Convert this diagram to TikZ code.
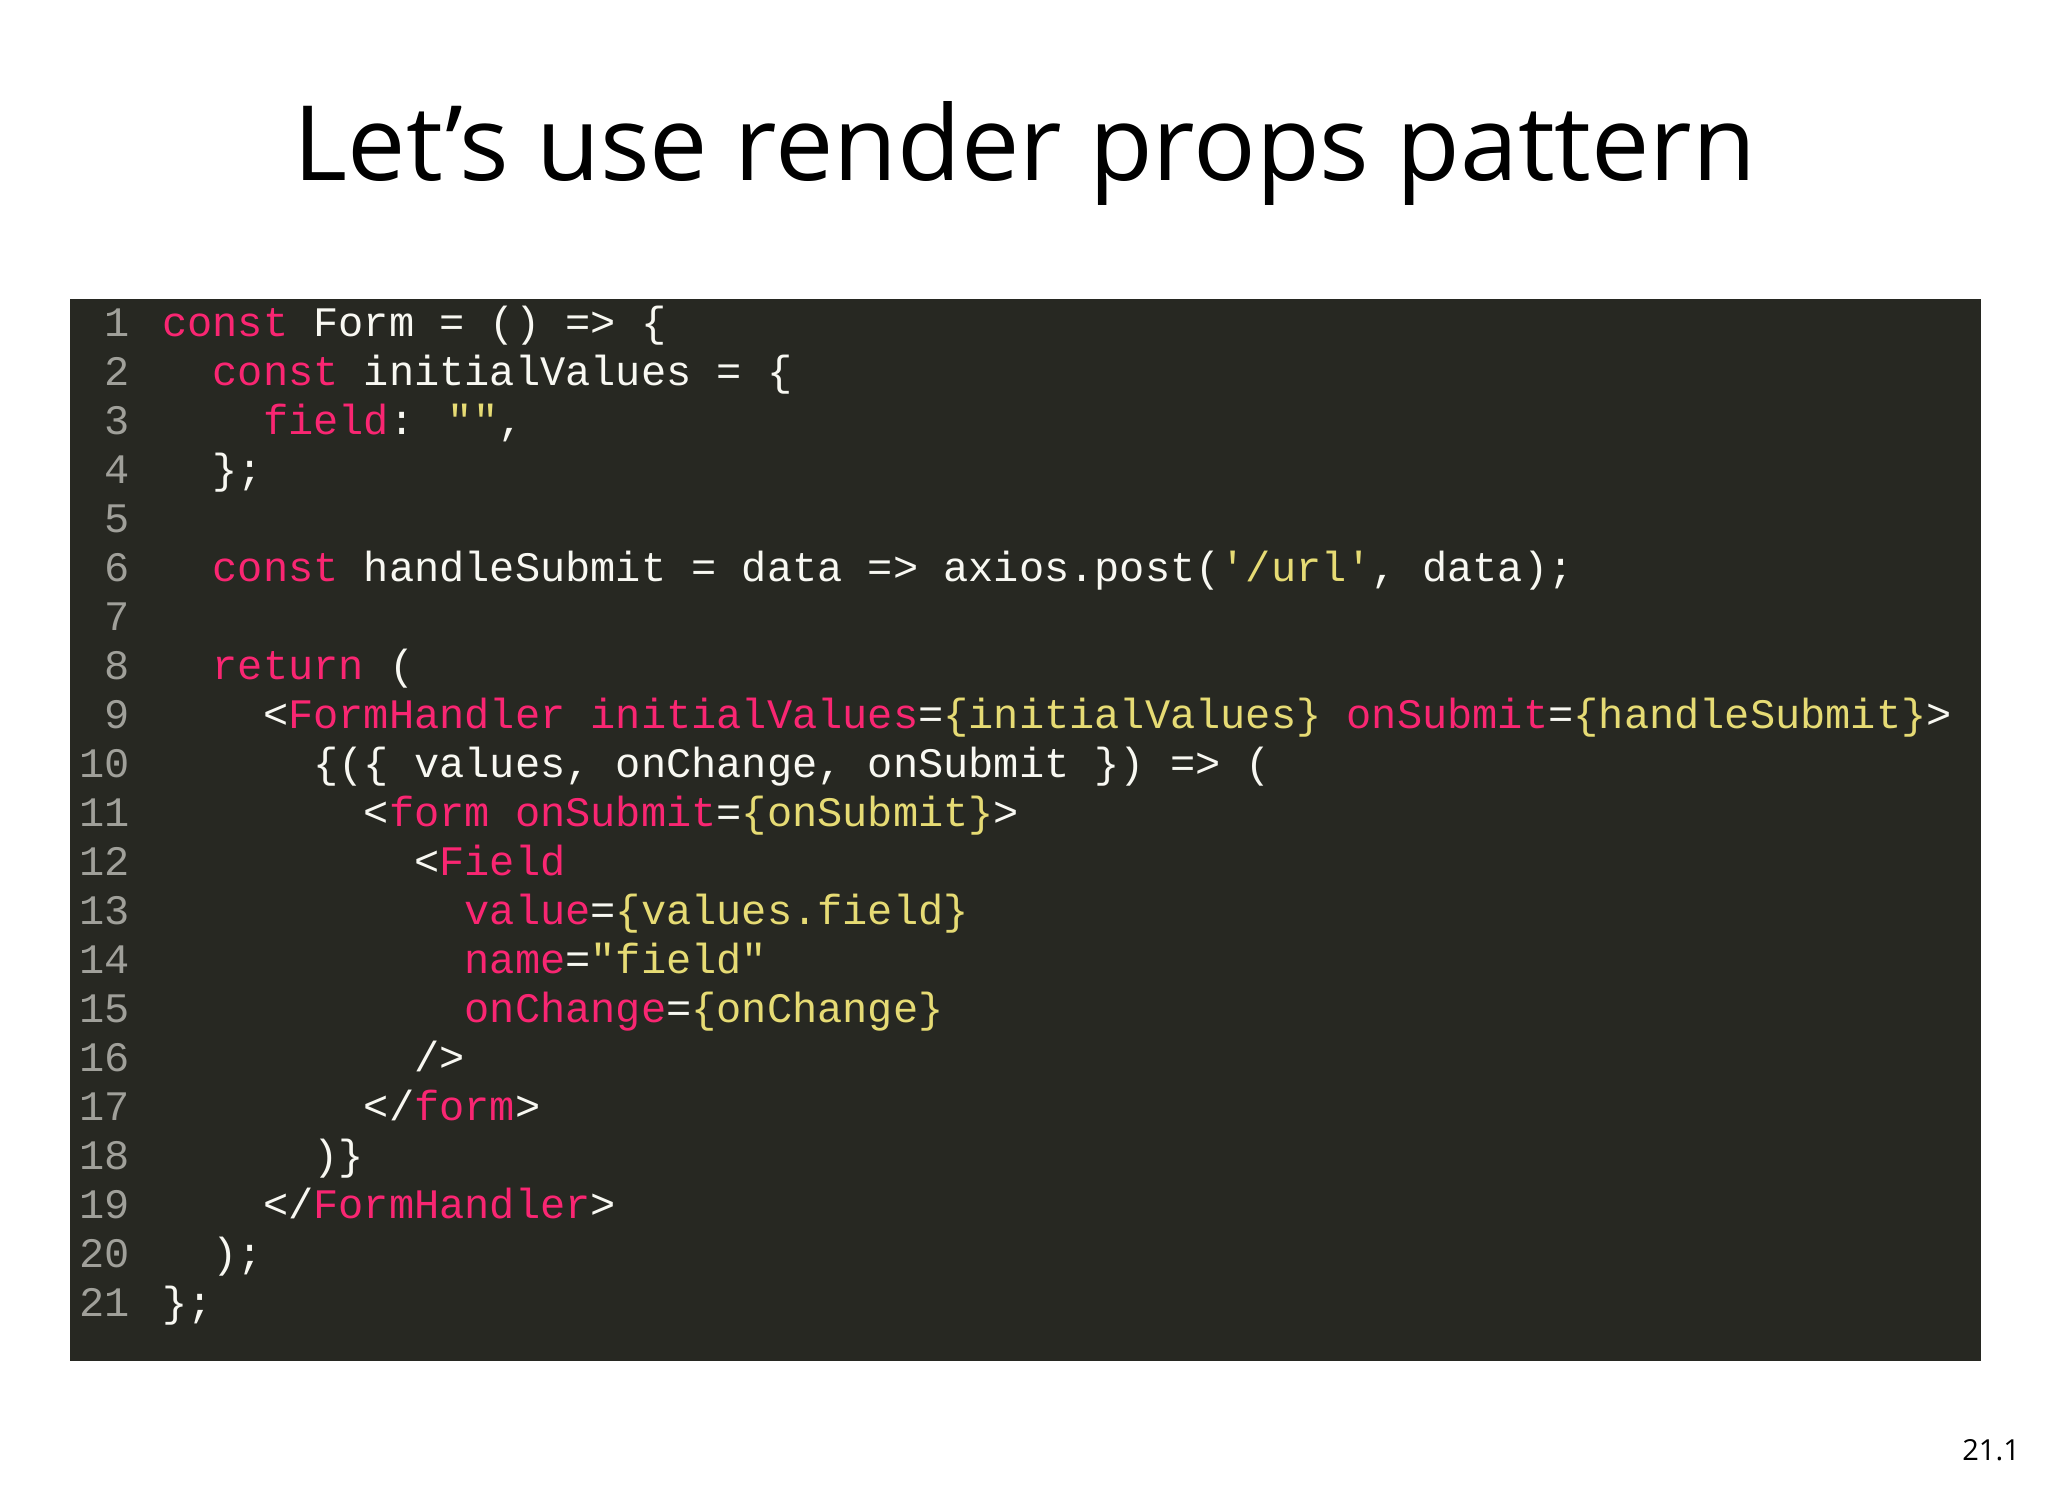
\documentclass[tikz,border=0pt]{standalone}
\usepackage{fontspec}
\setmainfont{Open Sans}
\newfontfamily\cf{Liberation Mono}
\definecolor{bgc}{HTML}{272822}
\definecolor{pk}{HTML}{F92672}
\definecolor{yl}{HTML}{E6DB74}
\definecolor{wt}{HTML}{F8F8F2}
\definecolor{gr}{HTML}{A0A09A}
\newcommand{\pk}[1]{\textcolor{pk}{#1}}
\newcommand{\yl}[1]{\textcolor{yl}{#1}}
\newcommand{\dq}{\symbol{34}}
\newcommand{\sq}{\symbol{39}}
\tikzset{code/.style={anchor=base west,inner sep=0pt,text=wt,font=\cf\fontsize{42}{42}\selectfont},
 lnum/.style={anchor=base east,inner sep=0pt,text=gr,font=\cf\fontsize{42}{42}\selectfont}}
\begin{document}
\begin{tikzpicture}[x=1pt,y=-1pt]
\useasboundingbox[fill=white] (0,0) rectangle (2048,1494);
\node[inner sep=0pt,font=\fontsize{104}{104}\selectfont] (title) at (1025,153) {Let's use render props pattern};
\fill[bgc] (70,299) rectangle (1981,1361);
\foreach \i in {1,...,21}{\node[lnum] (n\i) at (130,{336+(\i-1)*49}) {\i};}
\def\L#1#2#3{\node[code] (l#1) at ({162+#2*25.2},{336+(#1-1)*49}) {#3};}
\L{1}{0}{\pk{const} Form = () => \{}
\L{2}{2}{\pk{const} initialValues = \{}
\L{3}{4}{\pk{field}: \yl{\dq\dq},}
\L{4}{2}{\};}
\L{6}{2}{\pk{const} handleSubmit = data => axios.post(\yl{\sq/url\sq}, data);}
\L{8}{2}{\pk{return} (}
\L{9}{4}{<\pk{FormHandler} \pk{initialValues}=\yl{\{initialValues\}} \pk{onSubmit}=\yl{\{handleSubmit\}}>}
\L{10}{6}{\{(\{ values, onChange, onSubmit \}) => (}
\L{11}{8}{<\pk{form} \pk{onSubmit}=\yl{\{onSubmit\}}>}
\L{12}{10}{<\pk{Field}}
\L{13}{12}{\pk{value}=\yl{\{values.field\}}}
\L{14}{12}{\pk{name}=\yl{\dq field\dq}}
\L{15}{12}{\pk{onChange}=\yl{\{onChange\}}}
\L{16}{10}{/>}
\L{17}{8}{</\pk{form}>}
\L{18}{6}{)\}}
\L{19}{4}{</\pk{FormHandler}>}
\L{20}{2}{);}
\L{21}{0}{\};}
\node[anchor=base east,inner sep=0pt,font=\fontsize{29}{29}\selectfont] (pg) at (2020,1460) {21.1};
\end{tikzpicture}
\end{document}
